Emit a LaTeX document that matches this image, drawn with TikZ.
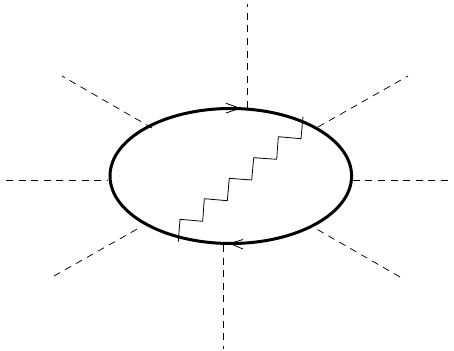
\documentclass[tikz,border=0pt]{standalone}

\tikzset{
  loopline/.style={line width=3pt},
  leg/.style={line width=0.75pt, dash pattern=on 7pt off 5.6pt},
  photon/.style={line width=0.8pt},
  fermi/.style={line width=0.8pt}
}

\begin{document}
\begin{tikzpicture}[x=1pt,y=-1pt]
\useasboundingbox (0,0) rectangle (454,350);

\draw[loopline] (230.8,176) ellipse (120.8 and 67.5);

% external legs
\foreach \xa/\ya/\xb/\yb in {247/108/247/4, 318/127/408/76, 448/180/352/180, 400/277/313/227,
  223/245/223/349, 54/276/139/228, 6/180/108/180, 152/128/62/76}
  \draw[leg] (\xa,\ya) -- (\xb,\yb);

\draw[photon] (178.3,241.7) -- (180,219.3) -- (202.7,221.3) -- (204.3,198.7) -- (227.3,200.7)
  -- (229.3,178.3) -- (251.7,180) -- (253.7,157.7) -- (276.7,159.3) -- (278.3,136.7)
  -- (301,138.7) -- (303,116.7);

% arrows on the loop
\draw[fermi] (226,103.3) -- (240,108.3) -- (226,113);
\draw[fermi] (243,239.5) -- (230,243.5) -- (243,249);
\end{tikzpicture}
\end{document}
